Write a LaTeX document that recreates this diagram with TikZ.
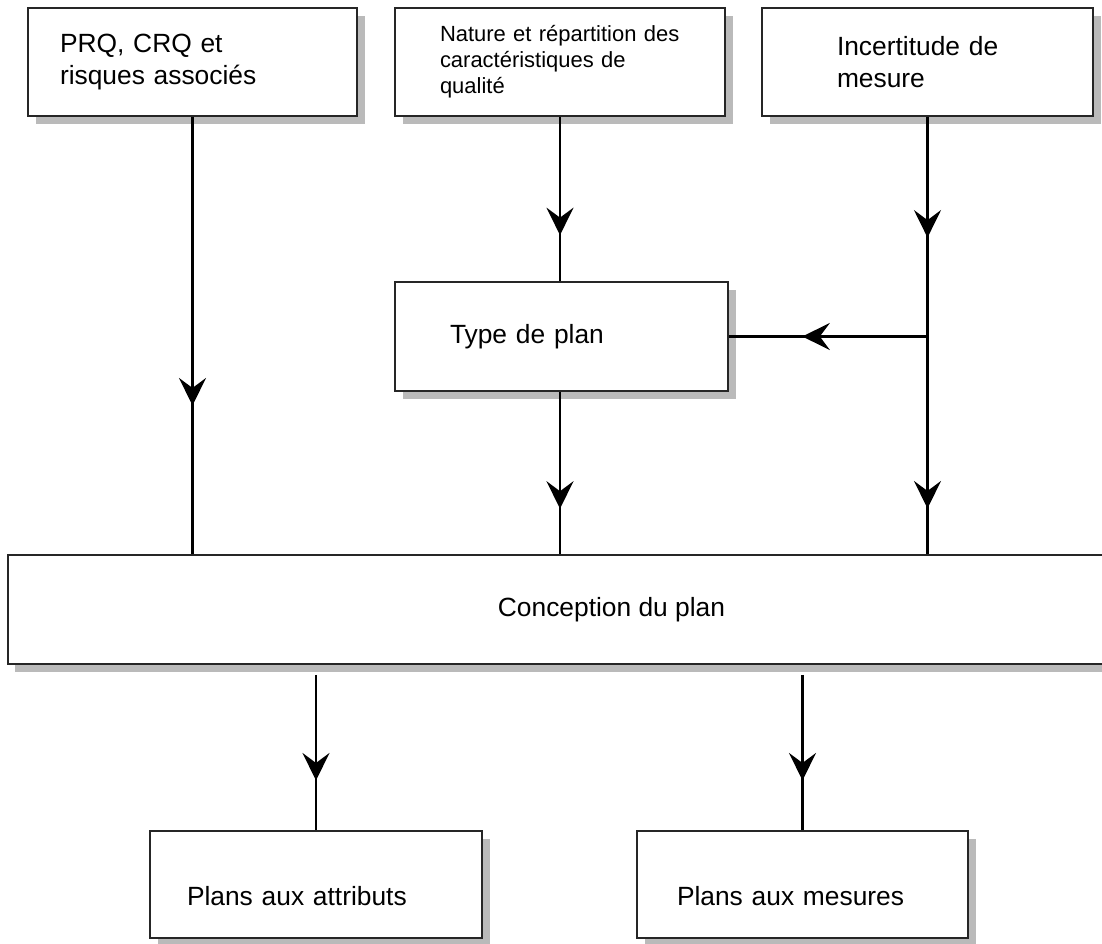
\documentclass[tikz,border=0pt]{standalone}
\usepackage{fontspec}
\setmainfont{Liberation Sans}
\usetikzlibrary{arrows.meta,shadows,decorations.markings}

\tikzset{
  boite/.style={draw=black!85, line width=0.9pt, fill=white, align=left,
    minimum height=2.16cm, font=\fontsize{15}{18.5}\selectfont,
    drop shadow={shadow xshift=0.15cm, shadow yshift=-0.16cm, fill=black!27, opacity=1}},
  bas/.style={text height=0.85cm},
  trait/.style={line width=1.4pt},
  fleche/.style={trait, decoration={markings,
    mark=at position #1 with {\arrow{Stealth[length=0.55cm, width=0.54cm, inset=0.2cm]}}},
    postaction={decorate}}
}

\begin{document}
\begin{tikzpicture}
	\useasboundingbox (0,0) rectangle (22.04,18.88);
	% entrees
	\node[boite, text width=5.3cm, inner xsep=0.64cm] (prq) at (3.85,17.64) {PRQ, CRQ et\\risques associés};
	\node[boite, text width=4.8cm, inner xsep=0.9cm, font=\fontsize{12.5}{14.7}\selectfont] (nature) at (11.2,17.64) {Nature et répartition des\\caractéristiques de\\qualité};
	\node[boite, text width=3.62cm, inner xsep=1.5cm] (incert) at (18.55,17.64) {Incertitude de\\mesure};
	\node[boite, text width=4.46cm, inner xsep=1.1cm, minimum height=2.18cm] (type) at (11.23,12.15) {Type de plan};
	\node[boite, minimum width=22.04cm, minimum height=2.18cm] (conc) at (11.18,6.69) {\hspace*{2.1cm}Conception du plan};
	% sorties
	\node[boite, bas, text width=5.16cm, inner xsep=0.74cm, minimum height=2.14cm] (attr) at (6.32,1.19) {Plans aux attributs};
	\node[boite, bas, text width=5.02cm, inner xsep=0.8cm, minimum height=2.14cm] (mes) at (16.05,1.19) {Plans aux mesures};

	\coordinate (bif) at (incert.south |- type.east);
	\draw[fleche=0.66] (prq.south) -- (prq.south |- conc.north);
	\draw[fleche=0.72] (nature.south) -- (type.north -| nature.south);
	\draw[fleche=0.72] (type.south -| nature.south) -- (nature.south |- conc.north);
	\draw[fleche=0.55] (incert.south) -- (bif);
	\draw[fleche=0.79] (bif) -- (incert.south |- conc.north);
	\draw[fleche=0.63] (bif) -- (type.east);
	\draw[fleche=0.68] ([yshift=-0.2cm]attr.north |- conc.south) -- (attr.north);
	\draw[fleche=0.68] ([yshift=-0.2cm]mes.north |- conc.south) -- (mes.north);
\end{tikzpicture}
\end{document}
